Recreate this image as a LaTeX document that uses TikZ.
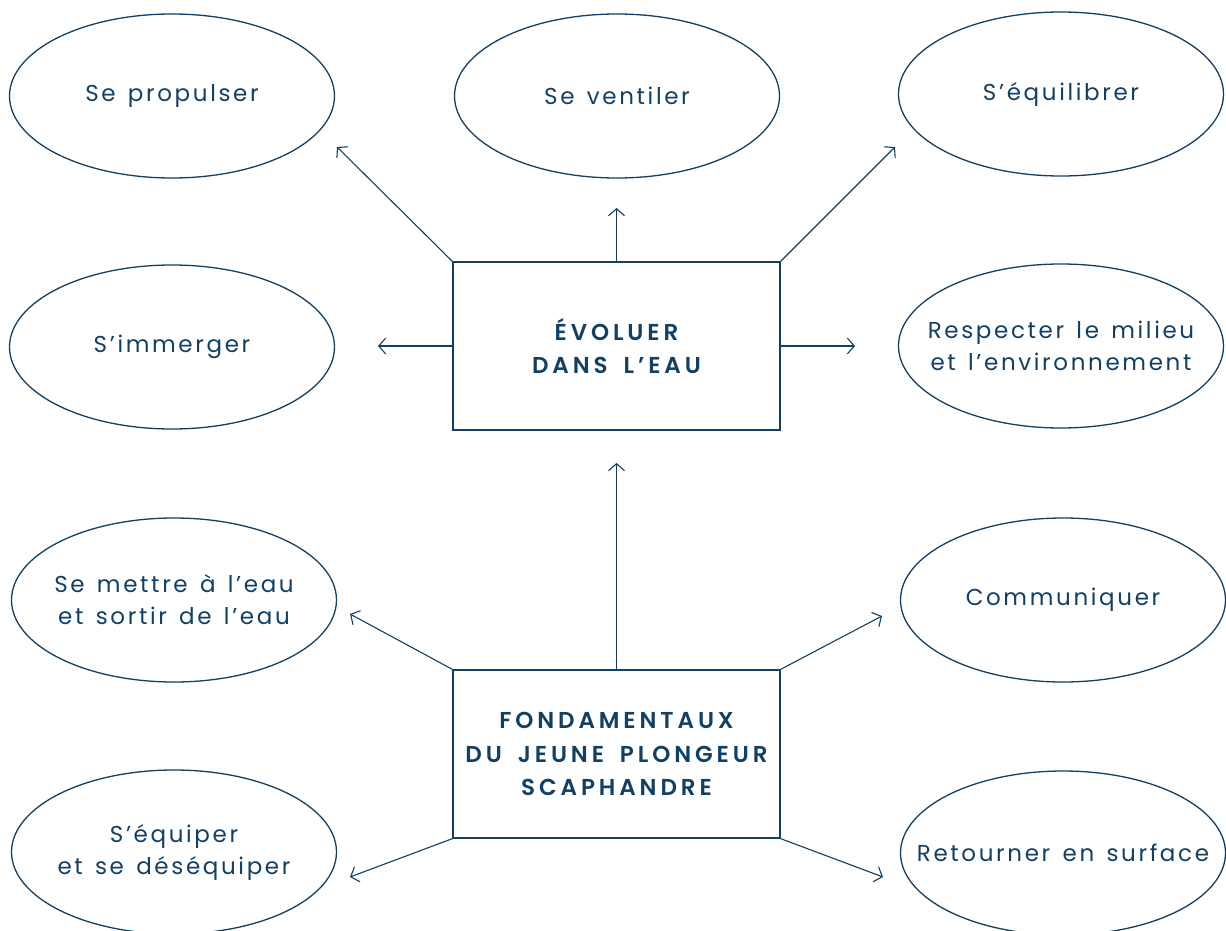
\documentclass[tikz,border=0pt]{standalone}
\usepackage{fontspec}
\setmainfont{Poppins}[LetterSpace=11.5,WordSpace=1.4]
\newfontfamily\boldfam{Poppins}[LetterSpace=17,WordSpace=1.7,BoldFont={* SemiBold}]
\usepackage{xcolor}
\definecolor{navy}{HTML}{123F64}
\usetikzlibrary{shapes.geometric}
\usetikzlibrary{arrows.meta}

\begin{document}
\begin{tikzpicture}[x=1pt,y=-1pt,
		bulle/.style={ellipse,draw=navy,line width=1.3pt,minimum width=325pt,minimum height=164pt,inner ysep=0pt,inner xsep=-70pt,align=center,text=navy,font=\fontsize{23}{32}\selectfont},
		cadre/.style={rectangle,draw=navy,line width=1.3pt,minimum width=327pt,minimum height=168pt,inner sep=0pt,align=center,text=navy,font=\boldfam\bfseries\fontsize{23}{33.5}\selectfont},
		fleche/.style={navy,line width=1.1pt,-{Straight Barb[length=7pt,width=16pt]}}]
			
			\useasboundingbox (0,0) rectangle (1226,931);
			
			% boites centrales
			\node[cadre] (B1) at (616.5,346) {ÉVOLUER\\DANS L’EAU};
			\node[cadre] (B2) at (616.5,754) {FONDAMENTAUX\\DU JEUNE PLONGEUR\\SCAPHANDRE};
			
			% ellipses du haut
			\node[bulle] (P) at (172,96) {Se propulser};
			\node[bulle] (V) at (617,96) {Se ventiler};
			\node[bulle] (Q) at (1061,94) {S’équilibrer};
			\node[bulle] (I) at (172,347) {S’immerger};
			\node[bulle] (R) at (1061,346) {Respecter le milieu\\et l’environnement};
			
			% ellipses du bas
			\node[bulle] (M) at (174,600) {Se mettre à l’eau\\et sortir de l’eau};
			\node[bulle] (C) at (1063,600) {Communiquer};
			\node[bulle] (E) at (174,852) {S’équiper\\et se déséquiper};
			\node[bulle] (T) at (1063,853) {Retourner en surface};
			
			% pointes des fleches
			\coordinate (aP) at (337,147);
			\coordinate (aV) at (616.5,208);
			\coordinate (aQ) at (895,147);
			\coordinate (aI) at (378,346);
			\coordinate (aR) at (855,346);
			\coordinate (aB) at (616.5,463);
			\coordinate (aM) at (350,614);
			\coordinate (aC) at (882,616);
			\coordinate (aE) at (350,877);
			\coordinate (aT) at (883,877);
			
			\draw[fleche] (B1.north west) -- (aP);
			\draw[fleche] (B1.north) -- (aV);
			\draw[fleche] (B1.north east) -- (aQ);
			\draw[fleche] (B1.west) -- (aI);
			\draw[fleche] (B1.east) -- (aR);
			
			\draw[fleche] (B2.north) -- (aB);
			\draw[fleche] (B2.north west) -- (aM);
			\draw[fleche] (B2.north east) -- (aC);
			\draw[fleche] (B2.south west) -- (aE);
			\draw[fleche] (B2.south east) -- (aT);
			
		\end{tikzpicture}
\end{document}
